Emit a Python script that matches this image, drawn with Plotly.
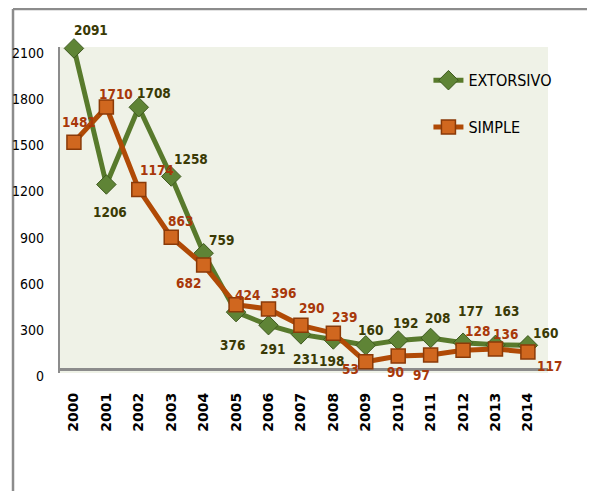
import plotly.graph_objects as go

years = [str(y) for y in range(2000, 2015)]
extorsivo = [2091, 1206, 1708, 1258, 759, 376, 291, 231, 198, 160, 192, 208, 177, 163, 160]
simple = [1481, 1710, 1174, 863, 682, 424, 396, 290, 239, 53, 90, 97, 128, 136, 117]
y_ticks = [0, 300, 600, 900, 1200, 1500, 1800, 2100]

# label offsets (px) relative to each marker
ext_off = [(17, -18), (4, 28), (15, -14), (20, -17), (18, -13), (-4, 33), (4, 24), (5, 25),
           (-2, 22), (5, -15), (7, -17), (7, -20), (7, -32), (11, -34), (18, -12)]
sim_off = [(5, -20), (10, -13), (18, -19), (9, -16), (-15, 18), (11, -10), (15, -16), (11, -17),
           (11, -16), (-15, 7), (-3, 16), (-9, 20), (14, -19), (10, -15), (22, 14)]

GREEN = "#587a2c"
ORANGE = "#b04a06"
FONT = "DejaVu Sans Condensed, Liberation Sans, sans-serif"

fig = go.Figure()
fig.add_trace(go.Scatter(
    x=years, y=extorsivo, name="EXTORSIVO", mode="lines+markers", legendgroup="a",
    line=dict(color=GREEN, width=5), cliponaxis=False,
    marker=dict(symbol="diamond", size=15, color="#5f8436", line=dict(color="#3f5a20", width=1)),
))
fig.add_trace(go.Scatter(
    x=years, y=simple, name="SIMPLE", mode="lines+markers", legendgroup="b",
    line=dict(color=ORANGE, width=5), cliponaxis=False,
    marker=dict(symbol="square", size=14, color="#d0671f", line=dict(color="#8a3a08", width=1.5)),
))

annotations = []
for vals, offs, col in ((extorsivo, ext_off, "#3a3a05"), (simple, sim_off, "#a8380a")):
    for i, (v, (dx, dy)) in enumerate(zip(vals, offs)):
        annotations.append(dict(
            x=i, y=v, xref="x", yref="y", text=str(v), showarrow=False,
            xshift=dx, yshift=-dy, xanchor="center", yanchor="middle",
            font=dict(family=FONT, size=13.5, color=col, weight="bold"),
        ))
for t in y_ticks:
    annotations.append(dict(
        x=0, y=t, xref="paper", yref="y", text=str(t), showarrow=False,
        xanchor="right", yanchor="middle", xshift=-14, yshift=-6,
        font=dict(family=FONT, size=14, color="black"),
    ))

fig.update_layout(
    width=587, height=483,
    margin=dict(l=52, r=47, t=39, b=118),
    paper_bgcolor="white",
    plot_bgcolor="#eff2e7",
    showlegend=True,
    legend=dict(x=0.755, y=0.95, xanchor="left", yanchor="top",
                bgcolor="rgba(0,0,0,0)", traceorder="grouped",
                font=dict(family=FONT, size=16, color="black"),
                tracegroupgap=23, itemwidth=30),
    annotations=annotations,
    shapes=[
        dict(type="line", xref="paper", yref="paper", x0=-0.0963, x1=1.1, y0=1.1166, y1=1.1166,
             line=dict(color="#8c8c8c", width=2.5)),
        dict(type="line", xref="paper", yref="paper", x0=-0.0963, x1=-0.0963, y0=1.1166, y1=-0.37,
             line=dict(color="#8c8c8c", width=2.5)),
    ],
)
fig.update_xaxes(
    type="category", range=[-0.43, 14.62],
    showgrid=False, zeroline=False, showline=False,
    tickangle=-90, ticks="", ticklabelstandoff=16,
    tickfont=dict(family="DejaVu Sans", size=14, color="black", weight="bold"),
)
fig.update_yaxes(
    range=[-20, 2100], tickvals=y_ticks, showticklabels=False,
    showgrid=False, zeroline=True, zerolinecolor="#8c8c8c", zerolinewidth=2.5,
    showline=True, linecolor="#8c8c8c", linewidth=2, ticks="",
)

fig.write_html("out.html")
